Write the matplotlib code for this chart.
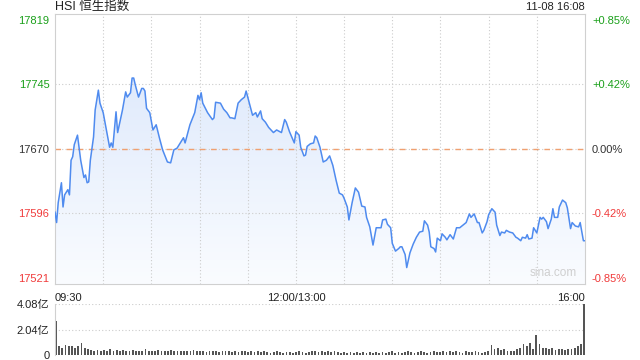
import numpy as np
import matplotlib
matplotlib.use("Agg")
import matplotlib.pyplot as plt
import matplotlib.transforms as mtransforms
from matplotlib.colors import LinearSegmentedColormap
from matplotlib.patches import PathPatch
from matplotlib.path import Path

plt.rcParams['font.family'] = ['Liberation Sans', 'Noto Sans CJK SC', 'DejaVu Sans']

# price data (minutes after 09:30, lunch removed)
minutes = [0, 1, 2, 4, 5, 6, 8, 9, 10, 11, 12, 14, 16, 18, 19, 20, 21, 22, 24, 25,
           27, 28, 30, 32, 34, 35, 36, 38, 39, 42, 44, 45, 47, 48, 49, 50, 52, 54, 55, 56,
           57, 59, 61, 63, 65, 67, 70, 72, 74, 76, 78, 80, 81, 84, 87, 89, 90, 91, 92, 95,
           98, 99, 100, 103, 105, 107, 109, 110, 112, 114, 116, 118, 119, 121, 123, 125, 126, 128, 129, 131,
           133, 136, 138, 140, 141, 143, 144, 146, 149, 150, 152, 153, 155, 156, 157, 159, 161, 162, 163, 165,
           167, 169, 171, 173, 175, 177, 179, 180, 182, 183, 185, 187, 189, 191, 193, 194, 196, 198, 200, 203,
           204, 206, 207, 209, 210, 212, 214, 215, 216, 218, 219, 221, 223, 225, 227, 229, 230, 232, 233, 234,
           236, 237, 238, 240, 241, 243, 244, 246, 248, 250, 252, 254, 256, 258, 259, 261, 263, 264, 266, 267,
           269, 270, 272, 274, 275, 277, 278, 280, 281, 283, 285, 287, 288, 290, 291, 293, 294, 295, 297, 298,
           300, 302, 303, 304, 306, 307, 309, 310, 311, 313, 314, 316, 318, 319, 321, 322, 324, 326, 327, 329, 330]
prices = [17597, 17585, 17608, 17631, 17603, 17617, 17623, 17617, 17657, 17661, 17675, 17686, 17657, 17637, 17640, 17631, 17632, 17657, 17684, 17715,
          17738, 17723, 17712, 17692, 17672, 17677, 17672, 17713, 17689, 17715, 17736, 17730, 17735, 17752, 17752, 17744, 17730, 17740, 17740, 17737,
          17717, 17712, 17692, 17698, 17683, 17669, 17655, 17654, 17669, 17671, 17677, 17683, 17677, 17698, 17712, 17732, 17727, 17735, 17723, 17712,
          17704, 17706, 17724, 17723, 17716, 17712, 17706, 17706, 17705, 17723, 17727, 17730, 17737, 17723, 17709, 17712, 17707, 17714, 17705, 17701,
          17695, 17689, 17692, 17690, 17689, 17704, 17701, 17690, 17677, 17690, 17686, 17672, 17662, 17663, 17673, 17676, 17677, 17685, 17683, 17672,
          17655, 17657, 17662, 17651, 17634, 17619, 17617, 17613, 17603, 17588, 17608, 17625, 17620, 17604, 17603, 17591, 17580, 17559, 17579, 17579,
          17588, 17589, 17583, 17579, 17561, 17552, 17555, 17557, 17557, 17548, 17533, 17550, 17560, 17568, 17574, 17575, 17587, 17582, 17574, 17557,
          17555, 17551, 17567, 17564, 17572, 17568, 17565, 17571, 17566, 17579, 17579, 17582, 17585, 17595, 17591, 17595, 17585, 17585, 17573, 17576,
          17586, 17594, 17601, 17597, 17582, 17570, 17574, 17573, 17576, 17574, 17573, 17568, 17567, 17564, 17568, 17567, 17571, 17566, 17567, 17579,
          17573, 17591, 17589, 17591, 17586, 17578, 17589, 17601, 17591, 17591, 17603, 17611, 17608, 17602, 17578, 17585, 17581, 17580, 17585, 17564, 17564]

prev_close = 17670
left_ticks = [17819, 17745, 17670, 17596, 17521]
right_labels = ['+0.85%', '+0.42%', '0.00%', '-0.42%', '-0.85%']
tick_colors = ['#1aa01a', '#1aa01a', '#333333', '#f03a3a', '#f03a3a']
time_pos = [0, 150, 330]
time_labels = ['09:30', '12:00/13:00', '16:00']

# volume in 亿, one bar every 2 minutes
vol_minutes = list(range(0, 331, 2))
volumes = [2.70, 0.75, 0.60, 0.80, 0.70, 0.75, 0.55, 0.70, 1.00, 0.55,
           0.45, 0.40, 0.35, 0.40, 0.35, 0.40, 0.35, 0.45, 0.35, 0.40,
           0.35, 0.40, 0.30, 0.35, 0.40, 0.30, 0.35, 0.30, 0.45, 0.35,
           0.30, 0.35, 0.40, 0.30, 0.35, 0.30, 0.40, 0.35, 0.30, 0.35,
           0.30, 0.35, 0.30, 0.40, 0.30, 0.35, 0.30, 0.25, 0.30, 0.35,
           0.30, 0.25, 0.30, 0.35, 0.30, 0.25, 0.30, 0.25, 0.30, 0.30,
           0.25, 0.30, 0.25, 0.30, 0.25, 0.30, 0.25, 0.20, 0.25, 0.30,
           0.25, 0.20, 0.25, 0.25, 0.20, 0.25, 0.30, 0.25, 0.20, 0.25,
           0.35, 0.30, 0.25, 0.30, 0.25, 0.30, 0.25, 0.30, 0.25, 0.20,
           0.25, 0.20, 0.25, 0.20, 0.25, 0.20, 0.25, 0.20, 0.25, 0.20,
           0.25, 0.20, 0.25, 0.20, 0.25, 0.30, 0.20, 0.25, 0.20, 0.25,
           0.30, 0.25, 0.20, 0.25, 0.30, 0.25, 0.20, 0.25, 0.30, 0.25,
           0.25, 0.30, 0.25, 0.35, 0.25, 0.30, 0.25, 0.20, 0.30, 0.25,
           0.25, 0.30, 0.25, 0.20, 0.25, 0.30, 0.80, 0.45, 0.55, 0.40,
           0.45, 0.30, 0.35, 0.30, 0.45, 0.60, 0.85, 0.70, 0.95, 0.50,
           1.60, 0.90, 0.55, 0.60, 0.45, 0.55, 0.40, 0.45, 0.50, 0.40,
           0.45, 0.50, 0.55, 0.70, 0.90, 4.08]
vol_ticks = [0, 2.04, 4.08]
vol_labels = ['0', '2.04亿', '4.08亿']

fig = plt.figure(figsize=(6.4, 3.6), dpi=100)
ax = fig.add_axes([55/640, 1-284/360, 530/640, 270/360])
axv = fig.add_axes([55/640, 1-355/360, 530/640, 51/360])

ymin, ymax = 17514, 17826
ax.set_xlim(0, 330)
ax.set_ylim(ymin, ymax)

# gradient fill under the line
cmap = LinearSegmentedColormap.from_list('fill', ['#fafcff', '#d8e5fb'])
grad = np.linspace(0, 1, 256).reshape(-1, 1)
im = ax.imshow(grad, extent=[0, 330, ymin, ymax], origin='lower', aspect='auto', cmap=cmap, zorder=1)
verts = [(minutes[0], ymin)] + list(zip(minutes, prices)) + [(minutes[-1], ymin)]
clip = PathPatch(Path(verts), transform=ax.transData, facecolor='none', edgecolor='none')
ax.add_patch(clip)
im.set_clip_path(clip)

ax.plot(minutes, prices, color='#4f8bef', lw=1.1, zorder=3)

# grid
for v in [17745, 17670, 17596]:
    ax.axhline(v, color='#cccccc', lw=0.8, ls=(0, (1, 2)), zorder=2)
for m in range(30, 330, 30):
    ax.axvline(m, color='#cccccc', lw=0.8, ls=(0, (1, 2)), zorder=2)
ax.axhline(prev_close, color='#f0a070', lw=1.0, ls=(0, (4, 4)), zorder=2)

for s in ax.spines.values():
    s.set_color('#d0d0d0')
    s.set_linewidth(0.8)

ax.set_yticks(left_ticks)
ax.set_yticklabels([str(v) for v in left_ticks], fontsize=8)
for lab, c in zip(ax.get_yticklabels(), tick_colors):
    lab.set_color(c)
ax.tick_params(axis='y', length=0, pad=4)
ax.set_xticks([])

axr = ax.twinx()
axr.set_ylim(ymin, ymax)
axr.set_yticks(left_ticks)
axr.set_yticklabels(right_labels, fontsize=8)
for lab, c in zip(axr.get_yticklabels(), tick_colors):
    lab.set_color(c)
axr.tick_params(axis='y', length=0, pad=5)
for s in axr.spines.values():
    s.set_visible(False)

# time labels
trans = mtransforms.blended_transform_factory(ax.transData, ax.transAxes)
for pos, lab, ha in zip(time_pos, time_labels, ['left', 'center', 'right']):
    ax.text(pos, -0.035, lab, transform=trans, ha=ha, va='top', fontsize=8, color='#222222')

ax.text(0.985, 0.02, 'sina.com', transform=ax.transAxes, ha='right', va='bottom', fontsize=8.5, color='#cfcfcf', zorder=4)

fig.text(55/640, 1-7/360, 'HSI 恒生指数', ha='left', va='center', fontsize=9, color='#222222')
fig.text(585/640, 1-7/360, '11-08 16:08', ha='right', va='center', fontsize=8, color='#222222')

# volume panel
axv.bar(vol_minutes, volumes, width=1.1, color='#555555', align='edge')
axv.set_xlim(0, 331)
axv.set_ylim(0, 4.08)
axv.set_yticks(vol_ticks)
axv.set_yticklabels(vol_labels, fontsize=8, color='#222222')
axv.tick_params(axis='y', length=0, pad=4)
axv.set_xticks([])
for v in [2.04, 4.08]:
    axv.axhline(v, color='#cccccc', lw=0.8, ls=(0, (1, 2)), zorder=0)
for k in ['top', 'right', 'bottom']:
    axv.spines[k].set_visible(False)
axv.spines['left'].set_color('#d0d0d0')
axv.spines['left'].set_linewidth(0.8)

fig.savefig('out.png', dpi=100)
